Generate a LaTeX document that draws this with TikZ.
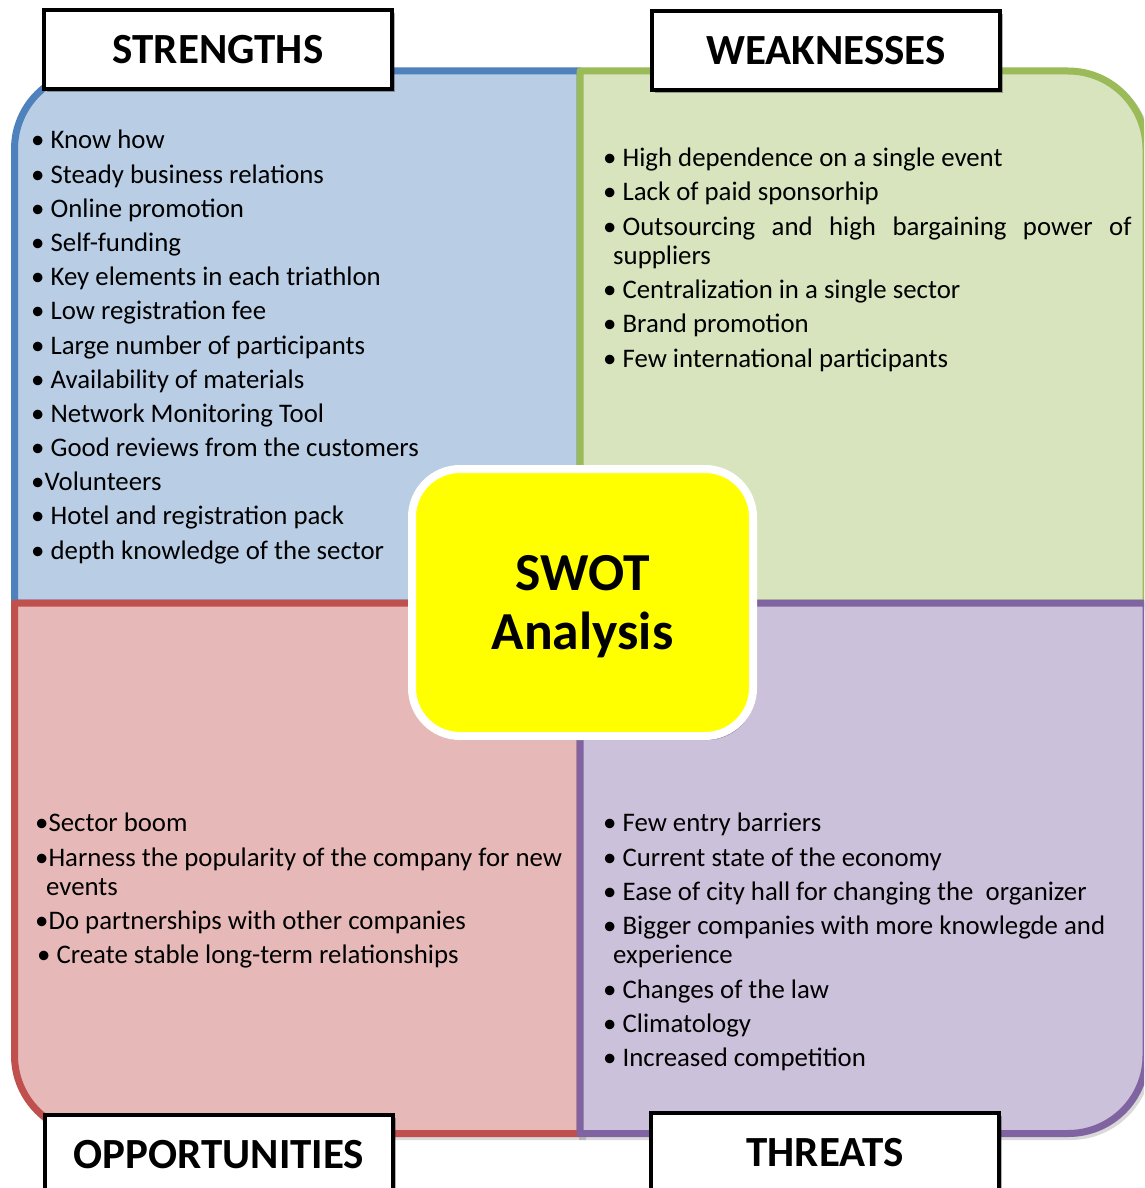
\documentclass[tikz,border=0pt]{standalone}
\usepackage{fontspec}
\setmainfont{Carlito}
\usetikzlibrary{shadows}

\definecolor{sLine}{HTML}{4F81BD}\definecolor{sFill}{HTML}{B9CDE5}
\definecolor{wLine}{HTML}{9BBB59}\definecolor{wFill}{HTML}{D7E4BD}
\definecolor{oLine}{HTML}{C0504D}\definecolor{oFill}{HTML}{E6B9B8}
\definecolor{tLine}{HTML}{8064A2}\definecolor{tFill}{HTML}{CCC1DA}
\definecolor{centreFill}{HTML}{FFFF00}

\begin{document}
\begin{tikzpicture}[x=1pt,y=-1pt,
  quad/.style={line width=7pt, line join=round,
    preaction={draw=black, fill=black, opacity=.15, line width=7pt,
      transform canvas={xshift=2.5pt,yshift=-3pt}}},
  header/.style={draw=black, fill=white, line width=4.5pt,
    minimum width=348pt, minimum height=79pt, inner sep=0pt,
    font=\fontsize{43}{47}\selectfont\bfseries,
    drop shadow={shadow xshift=3pt, shadow yshift=-3pt, opacity=.3, fill=black}},
  centre/.style={fill=centreFill, draw=white, line width=8pt, rounded corners=48pt,
    minimum width=341pt, minimum height=267pt, inner sep=0pt, align=center,
    text depth=0pt, font=\fontsize{53.5}{59}\selectfont\bfseries,
    drop shadow={shadow xshift=2pt, shadow yshift=-4pt, opacity=.35, fill=black}},
  item/.style={anchor=base west, inner sep=0pt, font=\fontsize{26.8}{29}\selectfont}]

\useasboundingbox (0,0) rectangle (1144,1188);
\fill[white] (0,0) rectangle (1144,1188);
\clip (0,0) rectangle (1144,1188);

% four quadrants, each with one rounded outer corner
\draw[quad, draw=sLine, fill=sFill] (580,603) -- (14.5,603) -- (14.5,149)
  .. controls (14.5,105.9) and (49.4,71) .. (92.5,71) -- (580,71) -- cycle;
\draw[quad, draw=wLine, fill=wFill] (580,603) -- (580,71) -- (1068,71)
  .. controls (1111.1,71) and (1146,105.9) .. (1146,149) -- (1146,603) -- cycle;
\draw[quad, draw=oLine, fill=oFill] (14.5,603) -- (580,603) -- (580,1133.5)
  -- (92.5,1133.5) .. controls (49.4,1133.5) and (14.5,1098.6) .. (14.5,1055.5) -- cycle;
\draw[quad, draw=tLine, fill=tFill] (580,603) -- (1146,603) -- (1146,1055.5)
  .. controls (1146,1098.6) and (1111.1,1133.5) .. (1068,1133.5) -- (580,1133.5) -- cycle;

% headings
\node[header] (hs) at (218,49.5) {STRENGTHS};
\node[header] (hw) at (826,50.5) {WEAKNESSES};
\node[header] (ho) at (219,1154.5) {OPPORTUNITIES};
\node[header] (ht) at (825,1152.5) {THREATS};

% strengths
\foreach \txt [count=\i from 0] in {{• Know how},{• Steady business relations},
  {• Online promotion},{• Self-funding},{• Key elements in each triathlon},
  {• Low registration fee},{• Large number of participants},
  {• Availability of materials},{• Network Monitoring Tool},
  {• Good reviews from the customers},{•Volunteers},
  {• Hotel and registration pack},{• depth knowledge of the sector}}
  \node[item] (s\i) at (31,{149+34.17*\i}) {\txt};

% weaknesses
\node[item] (w1) at (603,166) {• High dependence on a single event};
\node[item] (w2) at (603,200) {• Lack of paid sponsorhip};
\node[item] (w3) at (603,235) {• \makebox[509pt][s]{Outsourcing and high bargaining power of}};
\node[item] (w3b) at (613,264) {suppliers};
\node[item] (w4) at (603,298) {• Centralization in a single sector};
\node[item] (w5) at (603,332) {• Brand promotion};
\node[item] (w6) at (603,367) {• Few international participants};

% opportunities
\node[item] (o1) at (35,831) {•Sector boom};
\node[item] (o2) at (35,866) {•Harness the popularity of the company for new};
\node[item] (o2b) at (46,895) {events};
\node[item] (o3) at (35,929) {•Do partnerships with other companies};
\node[item] (o4) at (37,963) {• Create stable long-term relationships};

% threats
\node[item] (t1) at (603,831) {• Few entry barriers};
\node[item] (t2) at (603,866) {• Current state of the economy};
\node[item] (t3) at (603,900) {• Ease of city hall for changing the~ organizer};
\node[item] (t4) at (603,934) {• Bigger companies with more knowlegde and};
\node[item] (t4b) at (613,963) {experience};
\node[item] (t5) at (603,998) {• Changes of the law};
\node[item] (t6) at (603,1032) {• Climatology};
\node[item] (t7) at (603,1066) {• Increased competition};

% centre label
\node[centre] (swot) at (582.5,602.5) {SWOT\\Analysis};

\end{tikzpicture}
\end{document}
